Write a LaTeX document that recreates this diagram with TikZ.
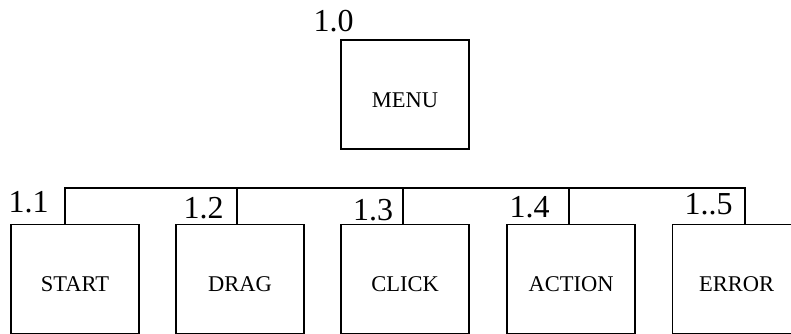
\documentclass[tikz,border=0pt]{standalone}
\usepackage{fontspec}
\setmainfont{Liberation Serif}
\begin{document}
\begin{tikzpicture}[x=1pt,y=-1pt,
  box/.style={draw,line width=1.5pt,minimum width=128pt,minimum height=109pt,inner sep=0pt},
  boxtext/.style={inner sep=0pt,font=\fontsize{22.5}{24}\selectfont},
  num/.style={anchor=base west,inner sep=0pt,font=\fontsize{32}{34}\selectfont},
  wire/.style={line width=1.5pt}]
\useasboundingbox (0,0) rectangle (791,334);
\clip (0,0) rectangle (791,334);
\node[box,label={[boxtext,yshift=-6pt]center:MENU}] (menu) at (405,94.5) {};
\node[box,label={[boxtext,yshift=-5pt]center:START}] (start) at (75,279) {};
\node[box,label={[boxtext,yshift=-5pt]center:DRAG}] (drag) at (240,279) {};
\node[box,label={[boxtext,yshift=-5pt]center:CLICK}] (click) at (405,279) {};
\node[box,label={[boxtext,yshift=-5pt]center:ACTION}] (action) at (571,279) {};
\node[box,label={[boxtext,yshift=-5pt]center:ERROR}] (error) at (736.5,279) {};
\node[num] (n0) at (313.5,31.5) {1.0};
\node[num] (n1) at (8.5,212) {1.1};
\node[num] (n2) at (183.5,218.5) {1.2};
\node[num] (n3) at (353,220) {1.3};
\node[num] (n4) at (509.5,217.5) {1.4};
\node[num] (n5) at (684.5,214) {1..5};
\coordinate (b1) at (65,188);
\coordinate (b2) at (237,188);
\coordinate (b3) at (403,188);
\coordinate (b4) at (569,188);
\coordinate (b5) at (745,188);
\draw[wire] (start.north -| b1) -- (b1) -- (b5) -- (error.north -| b5);
\draw[wire] (b2) -- (drag.north -| b2);
\draw[wire] (b3) -- (click.north -| b3);
\draw[wire] (b4) -- (action.north -| b4);
\end{tikzpicture}
\end{document}
